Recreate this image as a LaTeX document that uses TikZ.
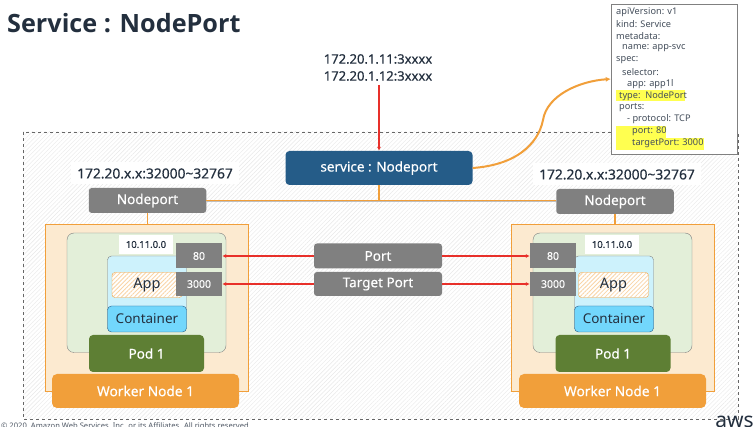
\documentclass[tikz,border=0pt]{standalone}
\usepackage{fontspec}
\setmainfont{Noto Sans}
\newfontfamily\medfont{Noto Sans}[FakeBold=0.35]
\newfontfamily\titlefont{Open Sans}
\usepackage{xcolor}
\usetikzlibrary{patterns.meta,arrows.meta}
\definecolor{ink}{HTML}{232F3E}
\definecolor{port-gray}{HTML}{808080}
\definecolor{link-orange}{HTML}{F19F3A}
\definecolor{worker-fill}{HTML}{FCEAD0}
\definecolor{pod-fill}{HTML}{E3EFD9}
\definecolor{pod-green}{HTML}{5E7F34}
\definecolor{app-blue}{HTML}{CDF2FC}
\definecolor{cont-blue}{HTML}{72D7FC}
\definecolor{svc-blue}{HTML}{255C88}
\definecolor{hi-yellow}{HTML}{FFFF50}
\definecolor{arrow-red}{HTML}{E8302A}
\tikzset{
    x=1pt, y=-1pt,
    gray-box/.style = {fill=port-gray, text=white, inner sep=0pt, font=\medfont\fontsize{13.5}{15}\selectfont},
    nodeport-box/.style = {gray-box, rounded corners=3pt, minimum width=117.5pt, minimum height=25pt},
    bar-box/.style = {gray-box, rounded corners=3pt, minimum width=128pt, minimum height=25pt},
    num-box/.style = {gray-box, minimum width=46pt, minimum height=25pt, font=\medfont\fontsize{10.5}{12}\selectfont},
    ip-label/.style = {fill=white, text=ink, inner sep=0pt, minimum width=168pt, minimum height=22pt, font=\medfont\fontsize{13.8}{15}\selectfont},
    net-label/.style = {fill=white, text=ink, inner sep=0pt, minimum width=54pt, minimum height=19pt, font=\medfont\fontsize{9.5}{11}\selectfont},
    worker-area/.style = {draw=link-orange, fill=worker-fill, inner sep=0pt, minimum width=203pt, minimum height=167pt},
    pod-area/.style = {draw=port-gray, fill=pod-fill, rounded corners=7pt, inner sep=0pt, minimum width=159pt, minimum height=119.5pt},
    app-area/.style = {draw=port-gray, fill=app-blue, rounded corners=4pt, inner sep=0pt, minimum width=79pt, minimum height=75pt},
    app-box/.style = {draw=link-orange, rounded corners=3pt, inner sep=0pt, minimum width=70pt, minimum height=25pt, text=ink,
        preaction={fill=white}, pattern={Lines[angle=45,distance=3pt,line width=.8pt]}, pattern color=link-orange!45, font=\fontsize{14.5}{16}\selectfont},
    cont-box/.style = {draw=svc-blue, fill=cont-blue, rounded corners=4pt, inner sep=0pt, minimum width=79pt, minimum height=26pt, text=ink, font=\fontsize{13.5}{15}\selectfont},
    pod-box/.style = {fill=pod-green, text=white, rounded corners=4pt, inner sep=0pt, minimum width=115pt, minimum height=37pt, font=\medfont\fontsize{13.5}{15}\selectfont},
    worker-box/.style = {fill=link-orange, text=white, rounded corners=5pt, inner sep=0pt, minimum width=187pt, minimum height=34pt, font=\medfont\fontsize{13.7}{15}\selectfont},
    svc-box/.style = {fill=svc-blue, text=white, rounded corners=4pt, inner sep=0pt, minimum width=187pt, minimum height=34pt, font=\medfont\fontsize{13.5}{15}\selectfont},
    yaml-line/.style = {anchor=west, inner sep=0pt, text=ink!85, font=\fontsize{9.2}{10}\selectfont},
    hi-box/.style = {fill=hi-yellow, inner sep=0pt},
    red-link/.style = {draw=arrow-red, line width=1.1pt, -{Latex[length=4pt,width=4pt]}},
    orange-link/.style = {draw=link-orange, line width=1pt, preaction={draw=black!25, line width=1pt, transform canvas={yshift=-.8pt}}},
}
\begin{document}
\begin{tikzpicture}
\useasboundingbox (0,0) rectangle (756,427);
\fill[white] (0,0) rectangle (756,427);
\node[anchor=west, inner sep=0pt, text=ink, font=\titlefont\bfseries\fontsize{25.2}{30}\selectfont] (title) at (7,23) {Service : NodePort};

% cluster area
\draw[draw=port-gray!80!black, dashed, pattern={Lines[angle=45,distance=3pt,line width=.4pt]}, pattern color=black!9] (23,132) rectangle (738,419);

% left node
\node[worker-area] (worker-a) at (146.5,307.5) {};
\node[pod-area] (pod-a) at (146.5,292.75) {};
\node[net-label] (net-a) at (146,244.5) {10.11.0.0};
\node[app-area] (app-area-a) at (147,293.5) {};
\node[app-box] (app-a) at (147,285) {App};
\node[cont-box] (cont-a) at (147,319) {Container};
\node[num-box] (p80-a) at (199,256) {80};
\node[num-box, minimum height=24pt] (p3000-a) at (199,284) {3000};
\node[pod-box] (pod-name-a) at (146.5,353.5) {Pod 1};
\node[worker-box] (worker-name-a) at (145.5,391) {Worker Node 1};
\node[ip-label] (ip-a) at (155,173.5) {172.20.x.x:32000\textasciitilde 32767};
\node[nodeport-box] (np-a) at (147.5,200.5) {Nodeport};

% right node
\node[worker-area] (worker-b) at (612.5,307.5) {};
\node[pod-area] (pod-b) at (612.5,292.75) {};
\node[net-label] (net-b) at (612,244.5) {10.11.0.0};
\node[app-area] (app-area-b) at (614,293.5) {};
\node[app-box] (app-b) at (613.5,285) {App};
\node[cont-box] (cont-b) at (614,319) {Container};
\node[num-box] (p80-b) at (553,256) {80};
\node[num-box, minimum height=24pt] (p3000-b) at (553,284) {3000};
\node[pod-box] (pod-name-b) at (613,353.5) {Pod 1};
\node[worker-box] (worker-name-b) at (612.5,391) {Worker Node 1};
\node[ip-label] (ip-b) at (617,174.5) {172.20.x.x:32000\textasciitilde 32767};
\node[nodeport-box] (np-b) at (615,201.5) {Nodeport};

% service and ports
\node[svc-box] (svc) at (379,168) {service : Nodeport};
\node[bar-box] (port) at (378,256) {Port};
\node[bar-box, minimum height=24pt] (target) at (378,284) {Target Port};
\node[align=center, inner sep=0pt, text=ink, font=\medfont\fontsize{13}{17}\selectfont] (ext) at (378,67.5) {172.20.1.11:3xxxx\\172.20.1.12:3xxxx};

\coordinate (drop) at (svc.south |- np-a.east);
\draw[orange-link] (np-a.east) -- (drop) -- (drop -| np-b.west);
\draw[draw=link-orange, line width=1.2pt] (svc.south) -- (drop);
\draw[draw=link-orange, line width=1.2pt] (np-a.south) -- (np-a.south |- worker-a.north);
\draw[draw=link-orange, line width=1.2pt] (np-b.south) -- (np-b.south |- worker-b.north);

\draw[red-link] (ext.south -| svc.north) ++(0,4) -- (svc.north);
\draw[red-link] (port.west) -- (p80-a.east);
\draw[red-link] (target.west) -- (p3000-a.east);
\draw[red-link] (port.east) -- (p80-b.west);
\draw[red-link] (target.east) -- (p3000-b.west);

% manifest
\node[draw=port-gray, fill=white, inner sep=0pt, minimum width=126pt, minimum height=150pt] (yaml) at (674,79) {};
\node[hi-box, minimum width=69pt, minimum height=11pt, anchor=north west] (hi-type) at (616,90) {};
\node[hi-box, minimum width=50pt, minimum height=12pt, anchor=north west] (hi-port) at (616,126) {};
\node[hi-box, minimum width=88pt, minimum height=12pt, anchor=north west] (hi-target) at (616,138) {};
\foreach \i/\xx/\yy/\txt in {1/616/12.3/{apiVersion: v1}, 2/616/24.3/{kind: Service}, 3/616/36.3/{metadata:}, 4/622/48.3/{name: app-svc},
    5/616/60.3/{spec:}, 6/622/72/{selector:}, 7/627/84/{app: app1l}, 8/619/95.7/{type:\ \ NodePort}, 9/619/107.5/{ports:},
    10/627/119.5/{- protocol: TCP}, 11/632/131.5/{port: 80}, 12/632/143.5/{targetPort: 3000}}
    \node[yaml-line] (yaml-\i) at (\xx,\yy) {\txt};
\draw[link-orange, line width=2pt, -{Latex[length=5pt,width=5pt]}] (svc.east) .. controls (515,165) and (538,145) .. (543,120) .. controls (547,95) and (580,81) .. (yaml.west);

% footer
\node[anchor=west, inner sep=0pt, text=ink!80, font=\fontsize{7.6}{9}\selectfont] (copy) at (1,426.5) {© 2020, Amazon Web Services, Inc. or its Affiliates. All rights reserved.};
\node[anchor=east, inner sep=0pt, text=ink, font=\fontsize{21}{24}\selectfont] (aws) at (754,422) {aws};
\end{tikzpicture}
\end{document}
